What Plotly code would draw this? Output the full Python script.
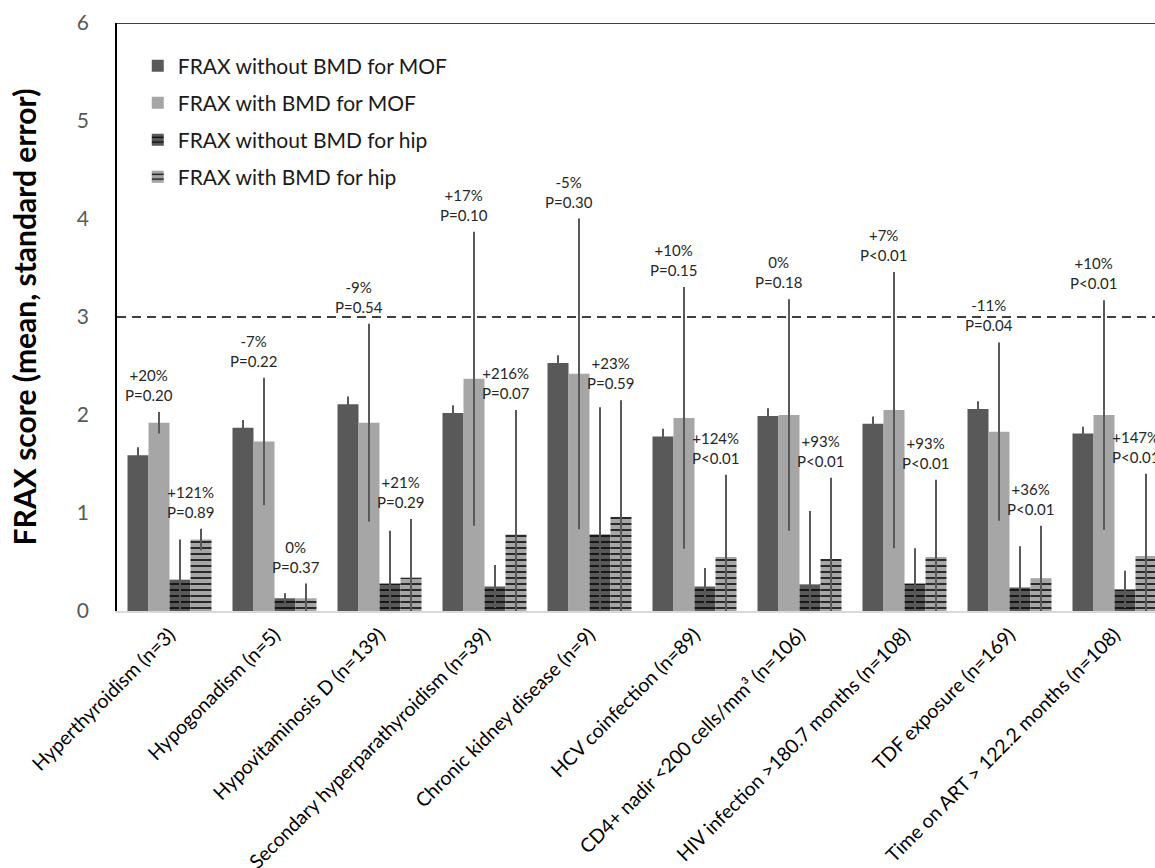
import plotly.graph_objects as go

categories = [
    "Hyperthyroidism (n=3)",
    "Hypogonadism (n=5)",
    "Hypovitaminosis D (n=139)",
    "Secondary hyperparathyroidism (n=39)",
    "Chronic kidney disease (n=9)",
    "HCV coinfection (n=89)",
    "CD4+ nadir <200 cells/mm³ (n=106)",
    "HIV infection >180.7 months (n=108)",
    "TDF exposure (n=169)",
    "Time on ART > 122.2 months (n=108)",
]

mof_no_bmd = [1.59, 1.87, 2.11, 2.02, 2.53, 1.78, 1.99, 1.91, 2.06, 1.81]
mof_no_bmd_se = [0.08, 0.08, 0.08, 0.08, 0.08, 0.08, 0.08, 0.075, 0.08, 0.07]
mof_bmd = [1.92, 1.73, 1.92, 2.37, 2.42, 1.97, 2.00, 2.05, 1.83, 2.00]
mof_bmd_se = [0.11, 0.65, 1.01, 1.50, 1.585, 1.335, 1.18, 1.41, 0.91, 1.17]
hip_no_bmd = [0.32, 0.13, 0.28, 0.25, 0.78, 0.25, 0.27, 0.28, 0.24, 0.22]
hip_no_bmd_se = [0.41, 0.05, 0.54, 0.22, 1.30, 0.19, 0.75, 0.36, 0.42, 0.19]
hip_bmd = [0.73, 0.13, 0.34, 0.78, 0.96, 0.55, 0.53, 0.55, 0.33, 0.56]
hip_bmd_se = [0.11, 0.15, 0.60, 1.27, 1.19, 0.84, 0.83, 0.79, 0.54, 0.84]

mof_change = ["+20%", "-7%", "-9%", "+17%", "-5%", "+10%", "0%", "+7%", "-11%", "+10%"]
mof_p = ["P=0.20", "P=0.22", "P=0.54", "P=0.10", "P=0.30", "P=0.15", "P=0.18", "P<0.01", "P=0.04", "P<0.01"]
hip_change = ["+121%", "0%", "+21%", "+216%", "+23%", "+124%", "+93%", "+93%", "+36%", "+147%"]
hip_p = ["P=0.89", "P=0.37", "P=0.29", "P=0.07", "P=0.59", "P<0.01", "P<0.01", "P<0.01", "P<0.01", "P<0.01"]

threshold = 3

FONT = "Lato"
DARK = "#595959"
LIGHT = "#A6A6A6"

W, H = 1155, 868
ML, MR, MT, MB = 117, 0, 23, 257
CAT_PX = 105

err_style = dict(type="data", color=DARK, thickness=2, width=0, visible=True)

fig = go.Figure()
fig.add_trace(go.Bar(name="FRAX without BMD for MOF", x=categories, y=mof_no_bmd,
                     legend="legend",
                     marker=dict(color=DARK, line=dict(width=0)),
                     error_y=dict(array=mof_no_bmd_se, **err_style)))
fig.add_trace(go.Bar(name="FRAX with BMD for MOF", x=categories, y=mof_bmd,
                     legend="legend2",
                     marker=dict(color=LIGHT, line=dict(width=0)),
                     error_y=dict(array=mof_bmd_se, **err_style)))
fig.add_trace(go.Bar(name="FRAX without BMD for hip", x=categories, y=hip_no_bmd,
                     legend="legend3",
                     marker=dict(color=DARK, line=dict(width=0),
                                 pattern=dict(shape="-", fgcolor="black", bgcolor=DARK,
                                              size=6, solidity=0.25, fillmode="replace")),
                     error_y=dict(array=hip_no_bmd_se, **err_style)))
fig.add_trace(go.Bar(name="FRAX with BMD for hip", x=categories, y=hip_bmd,
                     legend="legend4",
                     marker=dict(color=LIGHT, line=dict(width=0),
                                 pattern=dict(shape="-", fgcolor="black", bgcolor=LIGHT,
                                              size=6, solidity=0.25, fillmode="replace")),
                     error_y=dict(array=hip_bmd_se, **err_style)))

annotations = []
for i in range(len(categories)):
    top_mof = max(mof_no_bmd[i] + mof_no_bmd_se[i], mof_bmd[i] + mof_bmd_se[i])
    top_hip = max(hip_no_bmd[i] + hip_no_bmd_se[i], hip_bmd[i] + hip_bmd_se[i])
    annotations.append(dict(x=i - 0.2, y=top_mof, xref="x", yref="y",
                            text=f"{mof_change[i]}<br>{mof_p[i]}", showarrow=False,
                            yanchor="bottom", yshift=6,
                            font=dict(family=FONT, size=15, color="#262626")))
    annotations.append(dict(x=i + 0.2, y=top_hip, xref="x", yref="y",
                            text=f"{hip_change[i]}<br>{hip_p[i]}", showarrow=False,
                            yanchor="bottom", yshift=6,
                            font=dict(family=FONT, size=15, color="#262626")))

plot_w = W - ML - MR
plot_h = H - MT - MB


def legend_at(row_px):
    return dict(x=0.02, y=1 - (row_px - MT) / plot_h, xanchor="left", yanchor="middle",
                font=dict(family=FONT, size=21, color="#1a1a1a"),
                bgcolor="rgba(0,0,0,0)", borderwidth=0)


fig.update_layout(
    width=W, height=H,
    margin=dict(l=ML, r=MR, t=MT, b=MB, autoexpand=False),
    paper_bgcolor="white", plot_bgcolor="white",
    barmode="group", bargap=0.2, bargroupgap=0,
    font=dict(family=FONT, color="black"),
    showlegend=True,
    legend=legend_at(66),
    legend2=legend_at(103),
    legend3=legend_at(140),
    legend4=legend_at(177),
    annotations=annotations,
    shapes=[
        dict(type="line", xref="paper", yref="y", x0=0, x1=1, y0=threshold, y1=threshold,
             line=dict(color="black", width=1.5, dash="9px,6px")),
        dict(type="line", xref="paper", yref="y", x0=0, x1=1, y0=6, y1=6,
             line=dict(color="black", width=1.5)),
    ],
)

fig.update_xaxes(
    type="category",
    range=[-0.5, -0.5 + plot_w / CAT_PX],
    tickangle=-45,
    tickfont=dict(family=FONT, size=19.5, color="black"),
    showline=True, linecolor="#d9d9d9", linewidth=1.5,
    showgrid=False, ticks="", automargin=False,
    ticklabelstandoff=3,
)
fig.update_yaxes(
    range=[0, 6], tickvals=[0, 1, 2, 3, 4, 5, 6],
    tickfont=dict(family=FONT, size=21, color=DARK),
    showline=True, linecolor="black", linewidth=1.5,
    showgrid=False, zeroline=False, ticks="", ticklabelstandoff=22,
    title=dict(text="FRAX score (mean, standard error)",
               font=dict(family=FONT, size=30, color="black", weight="bold"),
               standoff=31),
    automargin=False,
)

fig.write_html("out.html")
